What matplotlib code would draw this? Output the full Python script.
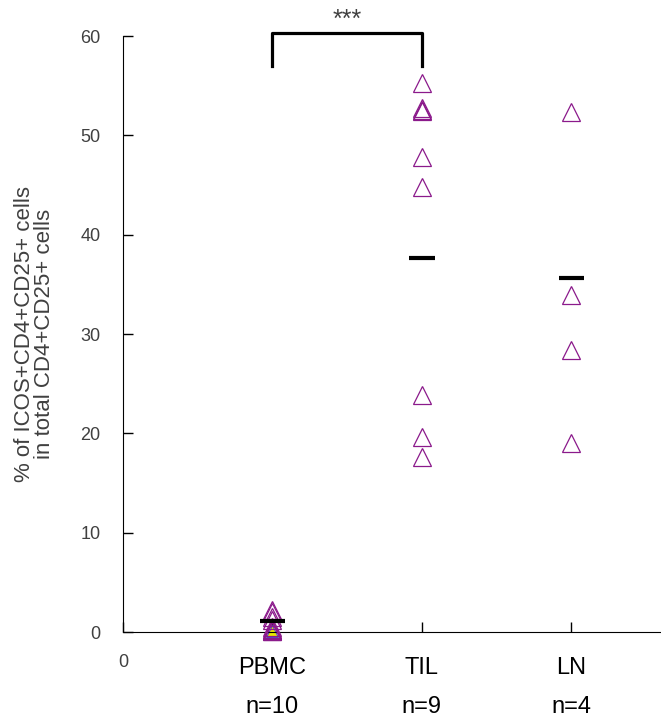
import numpy as np
import matplotlib
matplotlib.use("Agg")
import matplotlib.pyplot as plt

plt.rcParams['font.family'] = ['Liberation Sans', 'DejaVu Sans']

# data
groups = ["PBMC", "TIL", "LN"]
counts = ["n=10", "n=9", "n=4"]
pbmc = [2.2, 2.0, 1.5, 1.2, 0.5, 0.3, 0.2, 0.2, 0.1, 0.1]
til = [55.3, 52.8, 52.4, 47.8, 44.8, 23.9, 19.6, 17.6, 52.6]
ln = [52.3, 33.9, 28.4, 19.0]
means = [1.1, 37.7, 35.6]
signif = "***"

purple = "#8b1a8b"
gray = "#404040"

fig = plt.figure(figsize=(6.61, 7.2), dpi=100)
ax = fig.add_axes([0.186, 0.1222, 0.814, 0.8278])

for i, vals in enumerate([pbmc, til, ln]):
    x = np.full(len(vals), i + 1)
    ax.plot(x, vals, linestyle="none", marker="^", markersize=13,
            markerfacecolor="none", markeredgecolor=purple,
            markeredgewidth=0.9, clip_on=False, zorder=3)

# a yellow filled one among the PBMC pile
ax.plot([1], [pbmc[-1]], linestyle="none", marker="^", markersize=9,
        markerfacecolor="#e8e800", markeredgecolor="#5050c0",
        markeredgewidth=0.8, clip_on=False, zorder=2)

# mean bars
ax.hlines(means, np.arange(1, 4) - 0.085, np.arange(1, 4) + 0.085,
          colors="black", linewidth=3, zorder=4)

ax.set_xlim(0, 3.6)
ax.set_ylim(0, 60)
ax.set_yticks(np.arange(0, 61, 10))
ax.set_xticks([0, 1, 2, 3])
ax.set_xticklabels(["", "", "", ""])

ax.tick_params(axis="y", direction="in", length=7, width=1, pad=16,
               labelsize=13, labelcolor=gray)
ax.tick_params(axis="x", direction="in", length=7, width=1)

ax.spines["top"].set_visible(False)
ax.spines["right"].set_visible(False)

# x labels
ax.text(0, -3.1, "0", ha="center", va="center", fontsize=13, color=gray)
for i, (g, n) in enumerate(zip(groups, counts)):
    ax.text(i + 1, -3.6, g, ha="center", va="center", fontsize=17,
            color="black")
    ax.text(i + 1, -7.5, n, ha="center", va="center", fontsize=17,
            color="black")

ax.set_ylabel("% of ICOS+CD4+CD25+ cells\nin total CD4+CD25+ cells",
              fontsize=16, color=gray, labelpad=18, linespacing=0.95)

# significance bracket
ax.plot([1, 1, 2, 2], [57.0, 60.3, 60.3, 57.0], color="black",
        linewidth=2.3, clip_on=False)
ax.text(1.5, 61.6, signif, ha="center", va="center", fontsize=18,
        color=gray)

fig.savefig("out.png", dpi=100)
